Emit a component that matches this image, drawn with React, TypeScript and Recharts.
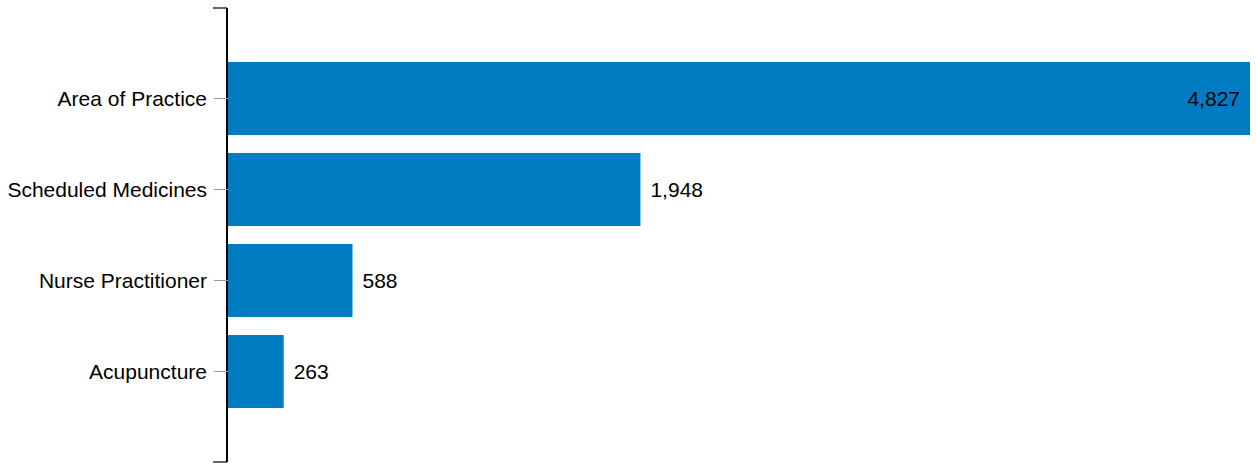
import * as Recharts from 'recharts'
import { Bar, BarChart, LabelList, XAxis, YAxis } from 'recharts'

const categories = ['Area of Practice', 'Scheduled Medicines', 'Nurse Practitioner', 'Acupuncture']
const counts = [4827, 1948, 588, 263]

const data = categories.map((name, i) => ({ name, value: counts[i] }))
const maxCount = Math.max(...counts)

const FONT = '"Liberation Sans", Arial, sans-serif'

function renderValueLabel(props: any) {
   const { x, y, width, height, value } = props
   const inside = value === maxCount
   const text = Number(value).toLocaleString('en-US')
   return (
      <text
         x={inside ? x + width - 10 : x + width + 10}
         y={y + height / 2}
         dy="0.355em"
         textAnchor={inside ? 'end' : 'start'}
         fontSize={21}
         fontFamily={FONT}
         fill="#000"
      >
         {text}
      </text>
   )
}

// short caps at both ends of the category axis
function AxisCaps() {
   const area = (Recharts as any).usePlotArea()
   if (!area) return null
   const x = area.x - 1
   return (
      <g>
         <line x1={x - 14} x2={x} y1={area.y} y2={area.y} stroke="#333" strokeWidth={1.5} />
         <line
            x1={x - 14}
            x2={x}
            y1={area.y + area.height}
            y2={area.y + area.height}
            stroke="#333"
            strokeWidth={1.5}
         />
      </g>
   )
}

export default function App() {
   return (
      <div style={{ position: 'absolute', left: 0, top: 0, background: '#fff' }}>
         <BarChart
            width={1256}
            height={464}
            data={data}
            layout="vertical"
            margin={{ top: 8, right: 6, bottom: 2, left: 0 }}
            barCategoryGap="10%"
         >
            <XAxis type="number" domain={[0, 'dataMax']} hide />
            <Bar dataKey="value" fill="#007CC2" isAnimationActive={false}>
               <LabelList dataKey="value" content={renderValueLabel} />
            </Bar>
            <YAxis
               dataKey="name"
               type="category"
               width={228}
               padding={{ top: 45, bottom: 45 }}
               tickSize={14}
               tickMargin={7}
               tickLine={{ stroke: '#999' }}
               axisLine={{ stroke: '#000', strokeWidth: 2, transform: 'translate(-1,0)' }}
               tick={{ fill: '#000', fontSize: 21, fontFamily: FONT }}
            />
            <AxisCaps />
         </BarChart>
      </div>
   )
}
